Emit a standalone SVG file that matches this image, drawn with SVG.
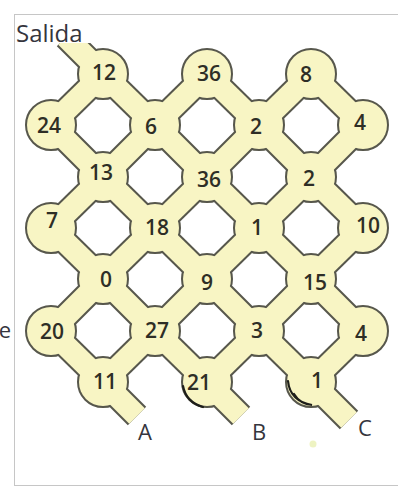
<svg xmlns="http://www.w3.org/2000/svg" xmlns:xlink="http://www.w3.org/1999/xlink" width="398" height="487" viewBox="0 0 398 487">
<style>
.frame{fill:none;stroke:#c6c6c6;stroke-width:1}
.node-outline{fill:#57574c;stroke:#57574c;stroke-width:4}
.edge-outline{fill:none;stroke:#57574c;stroke-width:26;stroke-linecap:butt}
.edge-fill{fill:none;stroke:#f8f5c4;stroke-width:22;stroke-linecap:butt}
.node{fill:#f8f5c4}
.num{font-family:"Open Sans","Liberation Sans",sans-serif;font-size:21px;font-weight:600;fill:#2e2e26;text-anchor:middle}
.tag{font-family:"Open Sans","Liberation Sans",sans-serif;font-size:22px;fill:#35353d;text-anchor:middle}
.scribble{fill:none;stroke:#1e1e1a;stroke-width:2.2;stroke-linecap:round}
</style>
<defs>
<clipPath id="clipS" clipPathUnits="userSpaceOnUse"><rect x="0" y="43" width="398" height="80"/></clipPath>
</defs>
<rect x="0" y="0" width="398" height="487" fill="#ffffff"/>
<rect class="frame" x="14.5" y="14.5" width="400" height="471"/>
<text x="11" y="338" class="tag" style="text-anchor:end">e</text>

<g id="outlines">
<use href="#c12" class="node-outline"/><use href="#c36a" class="node-outline"/><use href="#c8" class="node-outline"/>
<use href="#c24" class="node-outline"/><use href="#c6" class="node-outline"/><use href="#c2a" class="node-outline"/><use href="#c4a" class="node-outline"/>
<use href="#c13" class="node-outline"/><use href="#c36b" class="node-outline"/><use href="#c2b" class="node-outline"/>
<use href="#c7" class="node-outline"/><use href="#c18" class="node-outline"/><use href="#c1a" class="node-outline"/><use href="#c10" class="node-outline"/>
<use href="#c0" class="node-outline"/><use href="#c9" class="node-outline"/><use href="#c15" class="node-outline"/>
<use href="#c20" class="node-outline"/><use href="#c27" class="node-outline"/><use href="#c3" class="node-outline"/><use href="#c4b" class="node-outline"/>
<use href="#c11" class="node-outline"/><use href="#c21" class="node-outline"/><use href="#c1b" class="node-outline"/>
<use href="#edge-lines" class="edge-outline"/>
</g>

<g id="connectors" class="edge-fill">
<g id="edge-lines">
<line x1="66" y1="37" x2="103" y2="74" clip-path="url(#clipS)"/>
<line x1="103" y1="74" x2="51" y2="125"/>
<line x1="103" y1="74" x2="155" y2="125"/>
<line x1="207" y1="74" x2="155" y2="125"/>
<line x1="207" y1="74" x2="259" y2="125"/>
<line x1="311" y1="74" x2="259" y2="125"/>
<line x1="311" y1="74" x2="363" y2="125"/>
<line x1="51" y1="125" x2="103" y2="177"/>
<line x1="155" y1="125" x2="103" y2="177"/>
<line x1="155" y1="125" x2="207" y2="177"/>
<line x1="259" y1="125" x2="207" y2="177"/>
<line x1="259" y1="125" x2="311" y2="177"/>
<line x1="363" y1="125" x2="311" y2="177"/>
<line x1="103" y1="177" x2="51" y2="228"/>
<line x1="103" y1="177" x2="155" y2="228"/>
<line x1="207" y1="177" x2="155" y2="228"/>
<line x1="207" y1="177" x2="259" y2="228"/>
<line x1="311" y1="177" x2="259" y2="228"/>
<line x1="311" y1="177" x2="363" y2="228"/>
<line x1="51" y1="228" x2="103" y2="279"/>
<line x1="155" y1="228" x2="103" y2="279"/>
<line x1="155" y1="228" x2="207" y2="279"/>
<line x1="259" y1="228" x2="207" y2="279"/>
<line x1="259" y1="228" x2="311" y2="279"/>
<line x1="363" y1="228" x2="311" y2="279"/>
<line x1="103" y1="279" x2="51" y2="331"/>
<line x1="103" y1="279" x2="155" y2="331"/>
<line x1="207" y1="279" x2="155" y2="331"/>
<line x1="207" y1="279" x2="259" y2="331"/>
<line x1="311" y1="279" x2="259" y2="331"/>
<line x1="311" y1="279" x2="363" y2="331"/>
<line x1="51" y1="331" x2="103" y2="382"/>
<line x1="155" y1="331" x2="103" y2="382"/>
<line x1="155" y1="331" x2="207" y2="382"/>
<line x1="259" y1="331" x2="207" y2="382"/>
<line x1="259" y1="331" x2="311" y2="382"/>
<line x1="363" y1="331" x2="311" y2="382"/>
<line x1="103" y1="382" x2="137" y2="416"/>
<line x1="207" y1="382" x2="241" y2="416"/>
<line x1="311" y1="382" x2="349" y2="420"/>
</g>
</g>

<g id="node-12" class="node"><circle id="c12" cx="103" cy="74" r="24"/><text class="num" x="104" y="80">12</text></g>
<g id="node-36a" class="node"><circle id="c36a" cx="207" cy="74" r="24"/><text class="num" x="209" y="81">36</text></g>
<g id="node-8" class="node"><circle id="c8" cx="311" cy="74" r="24"/><text class="num" x="306" y="82">8</text></g>
<g id="node-24" class="node"><circle id="c24" cx="51" cy="125" r="24"/><text class="num" x="49" y="133">24</text></g>
<g id="node-6" class="node"><circle id="c6" cx="155" cy="125" r="24"/><text class="num" x="151" y="134">6</text></g>
<g id="node-2a" class="node"><circle id="c2a" cx="259" cy="125" r="24"/><text class="num" x="256" y="134">2</text></g>
<g id="node-4a" class="node"><circle id="c4a" cx="363" cy="125" r="24"/><text class="num" x="360" y="130">4</text></g>
<g id="node-13" class="node"><circle id="c13" cx="103" cy="177" r="24"/><text class="num" x="101" y="180">13</text></g>
<g id="node-36b" class="node"><circle id="c36b" cx="207" cy="177" r="24"/><text class="num" x="209" y="187">36</text></g>
<g id="node-2b" class="node"><circle id="c2b" cx="311" cy="177" r="24"/><text class="num" x="309" y="186">2</text></g>
<g id="node-7" class="node"><circle id="c7" cx="51" cy="228" r="24"/><text class="num" x="52" y="228">7</text></g>
<g id="node-18" class="node"><circle id="c18" cx="155" cy="228" r="24"/><text class="num" x="157" y="235">18</text></g>
<g id="node-1a" class="node"><circle id="c1a" cx="259" cy="228" r="24"/><text class="num" x="257" y="235">1</text></g>
<g id="node-10" class="node"><circle id="c10" cx="363" cy="228" r="24"/><text class="num" x="368" y="233">10</text></g>
<g id="node-0" class="node"><circle id="c0" cx="103" cy="279" r="24"/><text class="num" x="106" y="287">0</text></g>
<g id="node-9" class="node"><circle id="c9" cx="207" cy="279" r="24"/><text class="num" x="207" y="290">9</text></g>
<g id="node-15" class="node"><circle id="c15" cx="311" cy="279" r="24"/><text class="num" x="315" y="290">15</text></g>
<g id="node-20" class="node"><circle id="c20" cx="51" cy="331" r="24"/><text class="num" x="52" y="339">20</text></g>
<g id="node-27" class="node"><circle id="c27" cx="155" cy="331" r="24"/><text class="num" x="157" y="338">27</text></g>
<g id="node-3" class="node"><circle id="c3" cx="259" cy="331" r="24"/><text class="num" x="257" y="338">3</text></g>
<g id="node-4b" class="node"><circle id="c4b" cx="363" cy="331" r="24"/><text class="num" x="361" y="341">4</text></g>
<g id="node-11" class="node"><circle id="c11" cx="103" cy="382" r="24"/><text class="num" x="105" y="389">11</text></g>
<g id="node-21" class="node"><circle id="c21" cx="207" cy="382" r="24"/><text class="num" x="199" y="390">21</text></g>
<g id="node-1b" class="node"><circle id="c1b" cx="311" cy="382" r="24"/><text class="num" x="317" y="388">1</text></g>

<path class="scribble" d="M183,386 Q186,402 203,407"/>
<path class="scribble" d="M288,381 Q290,401 312,405 Q300,404 294,394"/>

<g id="labels">
<text class="tag" x="16" y="42" style="text-anchor:start;font-size:24px">Salida</text>
<text class="tag" x="145" y="440">A</text>
<text class="tag" x="259" y="440">B</text>
<text class="tag" x="365" y="436">C</text>
</g>
<circle cx="313" cy="444" r="3.5" fill="#eef3c2"/>
</svg>
